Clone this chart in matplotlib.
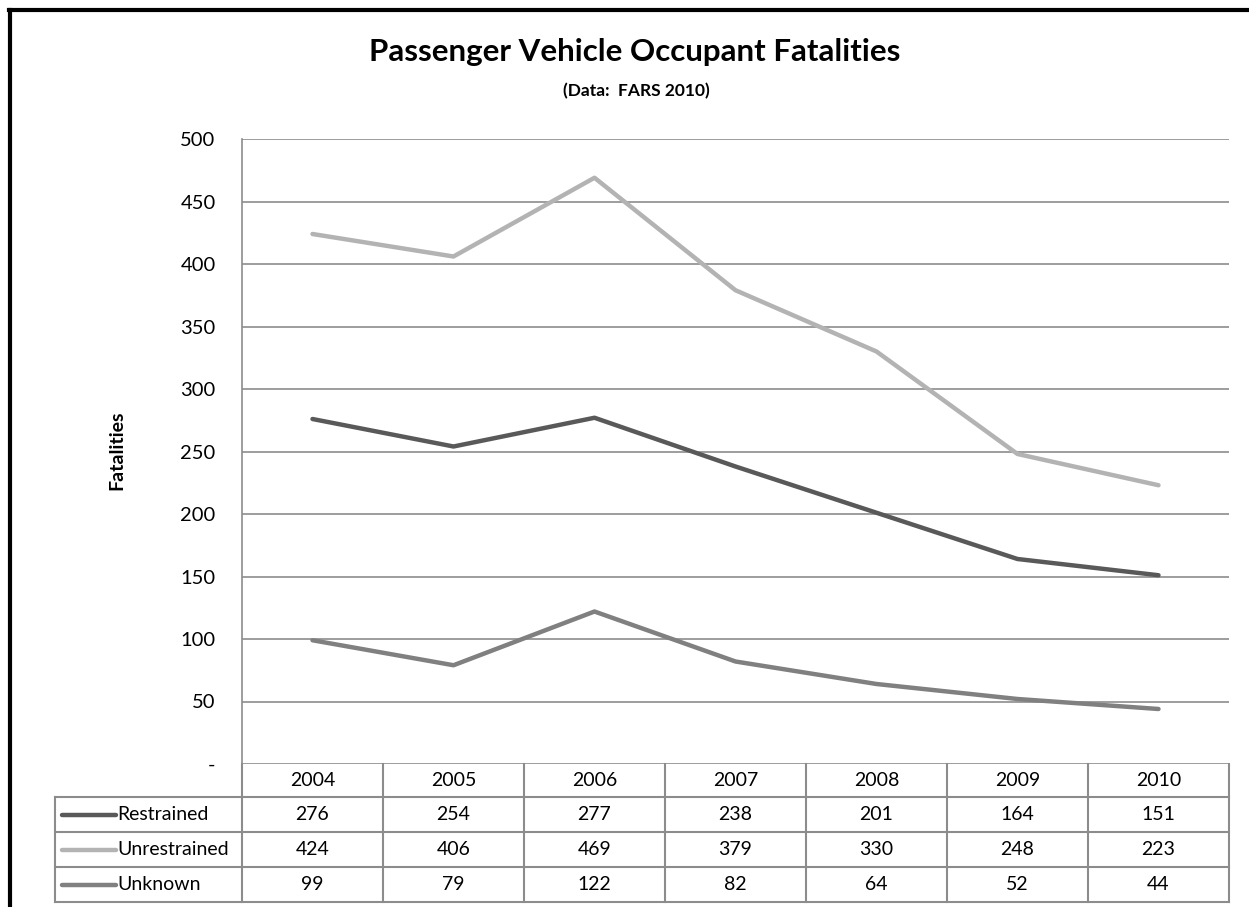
import matplotlib.pyplot as plt
import matplotlib.transforms as mtransforms
from matplotlib.lines import Line2D

years = ['2004', '2005', '2006', '2007', '2008', '2009', '2010']
restrained = [276, 254, 277, 238, 201, 164, 151]
unrestrained = [424, 406, 469, 379, 330, 248, 223]
unknown = [99, 79, 122, 82, 64, 52, 44]

series_names = ['Restrained', 'Unrestrained', 'Unknown']
series_values = [restrained, unrestrained, unknown]
series_colors = ['#595959', '#b3b3b3', '#808080']

plt.rcParams['font.family'] = ['Lato', 'DejaVu Sans']

W, H = 1249, 907
fig = plt.figure(figsize=(W / 100, H / 100), dpi=100)

# plot area in pixels
x0, x1 = 242, 1229
y_top, y_bot = 139, 764
ax = fig.add_axes([x0 / W, (H - y_bot) / H, (x1 - x0) / W, (y_bot - y_top) / H])

xs = list(range(len(years)))
for vals, col in zip(series_values, series_colors):
    ax.plot(xs, vals, color=col, lw=3.2, solid_capstyle='round', zorder=3)

ax.set_xlim(-0.5, len(years) - 0.5)
ax.set_ylim(0, 500)
ax.set_yticks(range(0, 501, 50))
ax.set_yticklabels(['-'] + [str(v) for v in range(50, 501, 50)], fontsize=14.5)
ax.tick_params(axis='y', length=0, pad=19)
ax.set_xticks([])
ax.grid(axis='y', color='#8c8c8c', lw=1.2)
for s in ['top', 'right', 'bottom']:
    ax.spines[s].set_visible(False)
ax.spines['left'].set_color('#8c8c8c')
ax.spines['left'].set_linewidth(1.2)

# data table under the axes
trans = mtransforms.blended_transform_factory(ax.transData, ax.transAxes)
ph = y_bot - y_top
row_h = 35 / ph
head_h = 33 / ph
gc = '#8c8c8c'
tlw = 1.5
fs = 14
y_head = -head_h
bounds = [y_head] + [y_head - row_h * (i + 1) for i in range(3)]
x_lab = -0.5 - (x0 - 55) / ((x1 - x0) / 7)
# horizontal lines
for yb in bounds:
    ax.add_line(Line2D([x_lab, 6.5], [yb, yb], transform=trans, color=gc, lw=tlw, clip_on=False))
# vertical lines
for k in range(8):
    xv = k - 0.5
    ax.add_line(Line2D([xv, xv], [0, bounds[-1]], transform=trans, color=gc, lw=tlw, clip_on=False))
ax.add_line(Line2D([x_lab, x_lab], [y_head, bounds[-1]], transform=trans, color=gc, lw=tlw, clip_on=False))

for k, yr in enumerate(years):
    ax.text(k, y_head / 2, yr, transform=trans, ha='center', va='center', fontsize=fs)
for i, (name, vals, col) in enumerate(zip(series_names, series_values, series_colors)):
    yc = y_head - row_h * (i + 0.5)
    for k, v in enumerate(vals):
        ax.text(k, yc, str(v), transform=trans, ha='center', va='center', fontsize=fs)
    ax.add_line(Line2D([x_lab + 0.05, x_lab + 0.43], [yc, yc], transform=trans, color=col,
                       lw=3.2, solid_capstyle='round', clip_on=False))
    ax.text(x_lab + 0.445, yc, name, transform=trans, ha='left', va='center', fontsize=fs)

# titles
fig.text(635 / W, 1 - 52 / H, 'Passenger Vehicle Occupant Fatalities', ha='center', va='center',
         fontsize=22.5, fontweight='bold')
fig.text(636 / W, 1 - 91 / H, '(Data:  FARS 2010)', ha='center', va='center',
         fontsize=12.5, fontweight='bold')
fig.text(117 / W, 1 - 450 / H, 'Fatalities', ha='center', va='center', rotation=90,
         fontsize=14, fontweight='bold')

# outer frame (left and top edges)
fig.add_artist(Line2D([10 / W, 10 / W], [0, 1 - 10 / H], color='black', lw=3, transform=fig.transFigure))
fig.add_artist(Line2D([9 / W, 1], [1 - 10 / H, 1 - 10 / H], color='black', lw=3, transform=fig.transFigure))

fig.savefig('out.png', dpi=100)
